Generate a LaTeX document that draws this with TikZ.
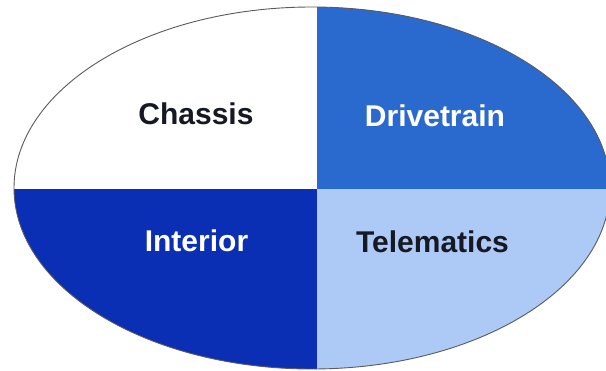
\documentclass[tikz,border=0pt]{standalone}
\usepackage{fontspec}
\setmainfont{Liberation Sans}
\definecolor{drive}{RGB}{42,106,206}
\definecolor{inter}{RGB}{10,46,180}
\definecolor{telem}{RGB}{172,202,245}
\definecolor{ink}{RGB}{22,24,36}
\definecolor{rim}{RGB}{90,90,95}
\begin{document}
\begin{tikzpicture}[x=1pt,y=-1pt,
  lbl/.style={anchor=base,inner sep=0pt,font=\fontsize{30}{30}\selectfont\bfseries}]
\useasboundingbox (0,0) rectangle (606,371);
\begin{scope}
  \clip (0,0) rectangle (606,371);
  \begin{scope}
    \clip (312,188) ellipse [x radius=298, y radius=181];
    \fill[white] (0,0) rectangle (317,189);
    \fill[drive] (317,0) rectangle (620,189);
    \fill[inter] (0,189) rectangle (317,380);
    \fill[telem] (317,189) rectangle (620,380);
  \end{scope}
  \draw[rim,line width=0.9pt] (312,188) ellipse [x radius=298, y radius=181];
\end{scope}
\node[lbl,text=ink] (chassis) at (196,125) {Chassis};
\node[lbl,text=white] (drivetrain) at (435,126.5) {Drivetrain};
\node[lbl,text=white] (interior) at (196.5,251.5) {Interior};
\node[lbl,text=ink] (telematics) at (432.5,253) {Telematics};
\end{tikzpicture}
\end{document}
